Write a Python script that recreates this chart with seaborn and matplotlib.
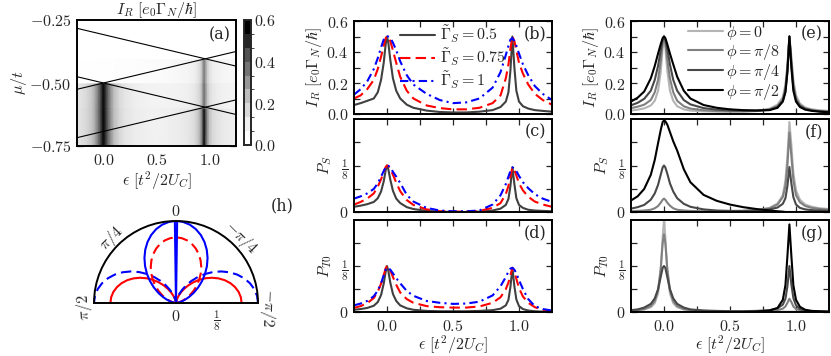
import numpy as np
import matplotlib
matplotlib.use("Agg")
import matplotlib.pyplot as plt
from matplotlib.colors import BoundaryNorm
from matplotlib.cm import ScalarMappable
import seaborn as sns

sns.set_style("ticks")
plt.rcParams["mathtext.fontset"] = "cm"
plt.rcParams["font.family"] = ["DejaVu Serif"]
plt.rcParams["font.size"] = 11

# -------------------------
# Data
# -------------------------
eps = [-0.25, -0.2, -0.15, -0.1, -0.07, -0.045, -0.025, -0.01, 0.0, 0.01, 0.025, 0.045,
       0.07, 0.1, 0.15, 0.2, 0.3, 0.4, 0.5, 0.6, 0.7, 0.8, 0.86, 0.9, 0.92, 0.935, 0.95,
       0.965, 0.98, 1.0, 1.03, 1.07, 1.12, 1.18, 1.25]

# (b) I_R for Gamma_S = 0.5, 0.75, 1
ir_g05 = [0.058, 0.07, 0.085, 0.1, 0.14, 0.22, 0.33, 0.45, 0.5, 0.46, 0.35, 0.23, 0.15, 0.1,
          0.06, 0.04, 0.022, 0.013, 0.01, 0.01, 0.015, 0.025, 0.045, 0.08, 0.14, 0.28, 0.5,
          0.3, 0.15, 0.08, 0.05, 0.035, 0.025, 0.02, 0.015]
ir_g075 = [0.1, 0.12, 0.16, 0.22, 0.29, 0.37, 0.44, 0.49, 0.5, 0.5, 0.47, 0.41, 0.33, 0.24,
           0.15, 0.1, 0.055, 0.038, 0.03, 0.03, 0.04, 0.07, 0.12, 0.23, 0.32, 0.42, 0.5, 0.47,
           0.41, 0.33, 0.26, 0.19, 0.13, 0.09, 0.06]
ir_g1 = [0.125, 0.16, 0.21, 0.29, 0.36, 0.43, 0.48, 0.5, 0.5, 0.5, 0.49, 0.46, 0.41, 0.34,
         0.25, 0.19, 0.13, 0.09, 0.07, 0.075, 0.1, 0.17, 0.27, 0.38, 0.44, 0.48, 0.49, 0.47,
         0.44, 0.39, 0.32, 0.25, 0.18, 0.13, 0.09]

# (c) P_S
ps_g05 = [0.014, 0.017, 0.021, 0.027, 0.037, 0.055, 0.082, 0.112, 0.125, 0.115, 0.087, 0.057,
          0.036, 0.024, 0.013, 0.008, 0.003, 0.001, 0.0, 0.0, 0.001, 0.004, 0.009, 0.019, 0.035,
          0.07, 0.12, 0.075, 0.037, 0.019, 0.011, 0.006, 0.004, 0.003, 0.002]
ps_g075 = [0.02, 0.027, 0.036, 0.05, 0.068, 0.088, 0.107, 0.121, 0.125, 0.124, 0.116, 0.1,
           0.079, 0.056, 0.032, 0.019, 0.007, 0.002, 0.001, 0.001, 0.003, 0.011, 0.024, 0.048,
           0.07, 0.096, 0.12, 0.113, 0.098, 0.077, 0.058, 0.041, 0.028, 0.02, 0.014]
ps_g1 = [0.036, 0.042, 0.05, 0.062, 0.077, 0.095, 0.11, 0.12, 0.125, 0.124, 0.12, 0.108,
         0.095, 0.078, 0.046, 0.028, 0.011, 0.004, 0.002, 0.002, 0.004, 0.02, 0.045, 0.075,
         0.095, 0.11, 0.12, 0.117, 0.11, 0.097, 0.08, 0.064, 0.048, 0.036, 0.027]

# (d) P_T0
pt_g05 = [0.006, 0.008, 0.011, 0.017, 0.027, 0.046, 0.077, 0.11, 0.125, 0.112, 0.08, 0.049,
          0.03, 0.018, 0.01, 0.006, 0.003, 0.002, 0.002, 0.002, 0.003, 0.005, 0.009, 0.018,
          0.033, 0.068, 0.12, 0.07, 0.034, 0.016, 0.008, 0.004, 0.002, 0.001, 0.0]
pt_g075 = [0.011, 0.016, 0.024, 0.038, 0.055, 0.077, 0.1, 0.119, 0.125, 0.123, 0.113, 0.095,
           0.074, 0.053, 0.035, 0.025, 0.016, 0.013, 0.012, 0.012, 0.015, 0.025, 0.04, 0.062,
           0.08, 0.1, 0.12, 0.11, 0.09, 0.065, 0.042, 0.025, 0.013, 0.006, 0.002]
pt_g1 = [0.018, 0.023, 0.03, 0.043, 0.058, 0.078, 0.1, 0.116, 0.12, 0.12, 0.115, 0.105, 0.092,
         0.078, 0.057, 0.044, 0.03, 0.025, 0.022, 0.023, 0.028, 0.045, 0.07, 0.095, 0.11,
         0.118, 0.12, 0.115, 0.105, 0.087, 0.062, 0.035, 0.016, 0.008, 0.004]

# (e) I_R for phi = 0, pi/8, pi/4, pi/2
ir_phi0 = [0.022, 0.028, 0.036, 0.055, 0.085, 0.15, 0.27, 0.43, 0.5, 0.43, 0.28, 0.15, 0.085,
           0.05, 0.03, 0.022, 0.017, 0.015, 0.015, 0.016, 0.02, 0.034, 0.06, 0.11, 0.19, 0.32,
           0.5, 0.37, 0.22, 0.12, 0.068, 0.042, 0.03, 0.024, 0.02]
ir_phi8 = [0.038, 0.047, 0.06, 0.09, 0.14, 0.22, 0.34, 0.46, 0.5, 0.46, 0.35, 0.23, 0.14,
           0.085, 0.05, 0.035, 0.024, 0.019, 0.017, 0.017, 0.019, 0.03, 0.052, 0.095, 0.17,
           0.3, 0.5, 0.34, 0.19, 0.1, 0.058, 0.036, 0.025, 0.019, 0.016]
ir_phi4 = [0.056, 0.072, 0.098, 0.15, 0.22, 0.31, 0.41, 0.48, 0.5, 0.48, 0.42, 0.32, 0.22,
           0.15, 0.09, 0.062, 0.038, 0.028, 0.023, 0.021, 0.021, 0.027, 0.045, 0.085, 0.15,
           0.28, 0.5, 0.32, 0.17, 0.09, 0.052, 0.033, 0.023, 0.017, 0.013]
ir_phi2 = [0.08, 0.105, 0.145, 0.23, 0.31, 0.39, 0.45, 0.49, 0.5, 0.49, 0.45, 0.39, 0.32,
           0.24, 0.15, 0.1, 0.058, 0.04, 0.03, 0.025, 0.023, 0.025, 0.04, 0.08, 0.14, 0.27,
           0.5, 0.3, 0.15, 0.08, 0.045, 0.028, 0.02, 0.015, 0.011]

# (f) P_S for phi
ps_phi0 = [0, 0, 0, 0, 0, 0, 0, 0, 0, 0, 0, 0, 0, 0, 0, 0, 0, 0.001, 0.001, 0.002, 0.004,
           0.011, 0.023, 0.045, 0.085, 0.15, 0.242, 0.18, 0.105, 0.058, 0.033, 0.02, 0.014,
           0.01, 0.008]
ps_phi8 = [0.002, 0.003, 0.004, 0.006, 0.01, 0.016, 0.025, 0.033, 0.036, 0.033, 0.025, 0.017,
           0.01, 0.006, 0.004, 0.003, 0.002, 0.002, 0.002, 0.003, 0.005, 0.01, 0.02, 0.04,
           0.07, 0.125, 0.214, 0.15, 0.085, 0.045, 0.026, 0.016, 0.011, 0.008, 0.006]
ps_phi4 = [0.009, 0.013, 0.019, 0.033, 0.05, 0.073, 0.1, 0.12, 0.125, 0.12, 0.103, 0.077,
           0.055, 0.037, 0.022, 0.014, 0.007, 0.004, 0.003, 0.003, 0.004, 0.007, 0.012, 0.022,
           0.037, 0.07, 0.121, 0.077, 0.04, 0.02, 0.011, 0.007, 0.005, 0.004, 0.003]
ps_phi2 = [0.031, 0.042, 0.062, 0.1, 0.14, 0.185, 0.22, 0.242, 0.246, 0.244, 0.235, 0.215,
           0.19, 0.165, 0.115, 0.08, 0.046, 0.03, 0.02, 0.013, 0.008, 0.004, 0.002, 0.001,
           0, 0, 0, 0, 0, 0, 0, 0, 0, 0, 0]

# (g) P_T0 for phi
pt_phi0 = [0.004, 0.005, 0.007, 0.013, 0.024, 0.05, 0.11, 0.205, 0.25, 0.205, 0.11, 0.05,
           0.024, 0.013, 0.007, 0.005, 0.003, 0.002, 0.001, 0.001, 0.001, 0.001, 0.001, 0.001,
           0.001, 0.001, 0.001, 0.001, 0.001, 0.001, 0.001, 0.0, 0.0, 0.0, 0.0]
pt_phi8 = [0.004, 0.005, 0.008, 0.016, 0.03, 0.06, 0.118, 0.187, 0.211, 0.187, 0.118, 0.06,
           0.03, 0.016, 0.008, 0.005, 0.003, 0.002, 0.002, 0.002, 0.002, 0.003, 0.005, 0.009,
           0.015, 0.025, 0.036, 0.027, 0.015, 0.008, 0.005, 0.003, 0.002, 0.001, 0.001]
pt_phi4 = [0.005, 0.007, 0.012, 0.022, 0.037, 0.062, 0.095, 0.12, 0.125, 0.12, 0.095, 0.062,
           0.037, 0.022, 0.012, 0.007, 0.004, 0.003, 0.002, 0.002, 0.003, 0.005, 0.01, 0.02,
           0.036, 0.07, 0.125, 0.075, 0.038, 0.018, 0.008, 0.004, 0.002, 0.001, 0.001]
pt_phi2 = [0, 0, 0, 0, 0, 0, 0, 0, 0, 0, 0, 0, 0, 0, 0, 0, 0, 0, 0, 0, 0.001, 0.004, 0.011,
           0.033, 0.073, 0.152, 0.238, 0.152, 0.073, 0.033, 0.014, 0.006, 0.003, 0.002, 0.001]

# (a) current map: column profiles of the two resonances and mu bands
map_left = [0.1, 0.12, 0.15, 0.21, 0.28, 0.37, 0.46, 0.54, 0.56, 0.54, 0.47, 0.38, 0.29,
            0.21, 0.14, 0.1, 0.065, 0.05, 0.04, 0.035, 0.03, 0.027, 0.025, 0.024, 0.023,
            0.022, 0.022, 0.022, 0.021, 0.021, 0.02, 0.02, 0.02, 0.02, 0.02]
map_right = [0.01, 0.01, 0.01, 0.01, 0.012, 0.012, 0.012, 0.012, 0.012, 0.012, 0.012, 0.013,
             0.013, 0.014, 0.015, 0.017, 0.02, 0.025, 0.03, 0.04, 0.055, 0.08, 0.12, 0.19,
             0.27, 0.4, 0.55, 0.42, 0.29, 0.19, 0.13, 0.1, 0.08, 0.065, 0.055]
map_mu = [-0.75, -0.6, -0.599, -0.5, -0.499, -0.405, -0.404, -0.25]
map_w_left = [1, 1, 1, 1, 0, 0, 0, 0]
map_w_right = [1, 1, 0.65, 0.65, 0.65, 0.65, 0, 0]

# (a) level lines, end points at eps = -0.25 and 1.25
line_eps = [-0.25, 1.25]
line_mu = [[-0.283, -0.433], [-0.525, -0.375], [-0.475, -0.625], [-0.717, -0.567]]

# (h) polar curves, theta in degrees
theta_deg = [-90, -85, -80, -75, -70, -65, -60, -55, -50, -45, -40, -35, -30, -25, -20, -15,
             -10, -5, -0.8, 0, 0.8, 5, 10, 15, 20, 25, 30, 35, 40, 45, 50, 55, 60, 65, 70, 75,
             80, 85, 90]
r_blue_solid = [0, 0.0019, 0.0076, 0.0168, 0.0293, 0.0447, 0.0625, 0.0823, 0.1033, 0.125,
                0.1467, 0.1678, 0.1875, 0.2054, 0.2208, 0.2333, 0.2425, 0.2481, 0.25, 0.0,
                0.25, 0.2481, 0.2425, 0.2333, 0.2208, 0.2054, 0.1875, 0.1678, 0.1467, 0.125,
                0.1033, 0.0823, 0.0625, 0.0447, 0.0293, 0.0168, 0.0076, 0.0019, 0]
r_red_dashed = [0, 0.0015, 0.006, 0.0134, 0.0234, 0.0357, 0.05, 0.0658, 0.0826, 0.1, 0.1174,
                0.1342, 0.15, 0.1643, 0.1766, 0.1866, 0.194, 0.1985, 0.2, 0.2, 0.2, 0.1985,
                0.194, 0.1866, 0.1766, 0.1643, 0.15, 0.1342, 0.1174, 0.1, 0.0826, 0.0658,
                0.05, 0.0357, 0.0234, 0.0134, 0.006, 0.0015, 0]
r_red_solid = [0.2, 0.1985, 0.194, 0.1866, 0.1766, 0.1643, 0.15, 0.1342, 0.1174, 0.1, 0.0826,
               0.0658, 0.05, 0.0357, 0.0234, 0.0134, 0.006, 0.0015, 0, 0, 0, 0.0015, 0.006,
               0.0134, 0.0234, 0.0357, 0.05, 0.0658, 0.0826, 0.1, 0.1174, 0.1342, 0.15,
               0.1643, 0.1766, 0.1866, 0.194, 0.1985, 0.2]
r_blue_dashed = [0.25, 0.2481, 0.2425, 0.2333, 0.2208, 0.2054, 0.1875, 0.1678, 0.1467, 0.125,
                 0.1033, 0.0823, 0.0625, 0.0447, 0.0293, 0.0168, 0.0076, 0.0019, 0, 0, 0,
                 0.0019, 0.0076, 0.0168, 0.0293, 0.0447, 0.0625, 0.0823, 0.1033, 0.125,
                 0.1467, 0.1678, 0.1875, 0.2054, 0.2208, 0.2333, 0.2425, 0.2481, 0.25]

gamma_labels = [r"$\tilde\Gamma_S=0.5$", r"$\tilde\Gamma_S=0.75$", r"$\tilde\Gamma_S=1$"]
phi_labels = [r"$\phi=0$", r"$\phi=\pi/8$", r"$\phi=\pi/4$", r"$\phi=\pi/2$"]
gamma_colors = ["#404040", "#ff0000", "#0000ff"]
gamma_styles = ["-", (0, (5, 2.5)), (0, (4, 2, 1, 2))]
phi_colors = ["#b4b4b4", "#808080", "#484848", "#000000"]

W, H = 831, 356
fig = plt.figure(figsize=(W / 100, H / 100), dpi=100)


def px_axes(x0, y0, x1, y1, **kw):
    return fig.add_axes([x0 / W, 1 - y1 / H, (x1 - x0) / W, (y1 - y0) / H], **kw)


def style_box(ax):
    for s in ax.spines.values():
        s.set_linewidth(1.4)
        s.set_color("black")
    ax.tick_params(which="both", direction="in", top=True, right=True, width=0.9,
                   labelsize=11.5, pad=4, length=4.5)


def style_line_panel(ax, ymax, bottom):
    ax.set_xlim(-0.25, 1.25)
    ax.set_ylim(0, ymax)
    ax.set_xticks([0, 0.5, 1.0])
    ax.set_xticks([0.25, 0.75], minor=True)
    if bottom:
        ax.set_xticklabels([r"$0.0$", r"$0.5$", r"$1.0$"])
        ax.set_xlabel(r"$\epsilon\ [t^2/2U_C]$", fontsize=11.5, labelpad=-1)
    else:
        ax.set_xticklabels([])
    if ymax > 0.3:
        ax.set_yticks([0, 0.2, 0.4, 0.6])
        ax.set_yticks([0.1, 0.3, 0.5], minor=True)
        ax.set_yticklabels([r"$0.0$", r"$0.2$", r"$0.4$", r"$0.6$"])
    else:
        ax.set_yticks([0, 0.125])
        ax.set_yticks([0.0625, 0.1875], minor=True)
        ax.set_yticklabels([r"$0$", r"$\frac{1}{8}$"])
    style_box(ax)


def tag(ax, s):
    ax.text(0.97, 0.95, s, transform=ax.transAxes, ha="right", va="top", fontsize=11.5)


# -------------------------
# (a) map
# -------------------------
ax_a = px_axes(77, 20, 236, 146)
X, Y = np.meshgrid(eps, map_mu)
Z = np.outer(map_w_left, map_left) + np.outer(map_w_right, map_right)
ax_a.pcolormesh(X, Y, Z, shading="gouraud", cmap="Greys", vmin=0, vmax=0.6)
for mu_pair in line_mu:
    sns.lineplot(x=line_eps, y=mu_pair, ax=ax_a, color="black", lw=0.8)
ax_a.set_xlim(-0.25, 1.25)
ax_a.set_ylim(-0.75, -0.25)
ax_a.set_xticks([0, 0.5, 1.0])
ax_a.set_xticks([0.25, 0.75], minor=True)
ax_a.set_xticklabels([r"$0.0$", r"$0.5$", r"$1.0$"])
ax_a.set_yticks([-0.75, -0.5, -0.25])
ax_a.set_yticks([-0.625, -0.375], minor=True)
ax_a.set_yticklabels([r"$-0.75$", r"$-0.50$", r"$-0.25$"])
style_box(ax_a)
ax_a.set_xlabel(r"$\epsilon\ [t^2/2U_C]$", fontsize=11.5, labelpad=1)
ax_a.set_ylabel(r"$\mu/t$", fontsize=11.5, labelpad=0)
ax_a.set_title(r"$I_R\ [e_0\Gamma_N/\hbar]$", fontsize=11.5, pad=3)
tag(ax_a, "(a)")

cax = px_axes(244, 20, 251, 145)
levels = np.linspace(0, 0.6, 10)
sm = ScalarMappable(norm=BoundaryNorm(levels, 256), cmap="Greys")
cb = fig.colorbar(sm, cax=cax, ticks=[0, 0.2, 0.4, 0.6])
cb.set_ticklabels([r"$0.0$", r"$0.2$", r"$0.4$", r"$0.6$"])
cb.outline.set_linewidth(1.4)
cax.tick_params(length=0, labelsize=11.5, pad=2)

# -------------------------
# (b)-(d) Gamma_S dependence
# -------------------------
ax_b = px_axes(354, 21, 552, 114)
ax_c = px_axes(354, 119, 552, 212)
ax_d = px_axes(354, 220, 552, 312)
for ys, ax in [((ir_g05, ir_g075, ir_g1), ax_b), ((ps_g05, ps_g075, ps_g1), ax_c),
               ((pt_g05, pt_g075, pt_g1), ax_d)]:
    for y, c, ls, lab in zip(ys, gamma_colors, gamma_styles, gamma_labels):
        sns.lineplot(x=eps, y=y, ax=ax, color=c, linestyle=ls, lw=1.5,
                     label=lab if ax is ax_b else None, legend=ax is ax_b)
style_line_panel(ax_b, 0.6, False)
style_line_panel(ax_c, 0.25, False)
style_line_panel(ax_d, 0.25, True)
ax_b.set_ylabel(r"$I_R\ [e_0\Gamma_N/\hbar]$", fontsize=11.5, labelpad=2)
ax_c.set_ylabel(r"$P_S$", fontsize=11.5)
ax_d.set_ylabel(r"$P_{T0}$", fontsize=11.5)
ax_b.legend(loc="upper center", bbox_to_anchor=(0.5, 1.04), frameon=False, fontsize=11.5,
            handlelength=2.2, handletextpad=0.3, labelspacing=0.1, borderaxespad=0)
tag(ax_b, "(b)")
tag(ax_c, "(c)")
tag(ax_d, "(d)")

# -------------------------
# (e)-(g) phi dependence
# -------------------------
ax_e = px_axes(631, 21, 829, 114)
ax_f = px_axes(631, 119, 829, 212)
ax_g = px_axes(631, 220, 829, 312)
for ys, ax in [((ir_phi0, ir_phi8, ir_phi4, ir_phi2), ax_e),
               ((ps_phi0, ps_phi8, ps_phi4, ps_phi2), ax_f),
               ((pt_phi0, pt_phi8, pt_phi4, pt_phi2), ax_g)]:
    for y, c, lab in zip(ys, phi_colors, phi_labels):
        sns.lineplot(x=eps, y=y, ax=ax, color=c, lw=1.5,
                     label=lab if ax is ax_e else None, legend=ax is ax_e)
style_line_panel(ax_e, 0.6, False)
style_line_panel(ax_f, 0.25, False)
style_line_panel(ax_g, 0.25, True)
ax_e.set_ylabel(r"$I_R\ [e_0\Gamma_N/\hbar]$", fontsize=11.5, labelpad=2)
ax_f.set_ylabel(r"$P_S$", fontsize=11.5)
ax_g.set_ylabel(r"$P_{T0}$", fontsize=11.5)
ax_e.legend(loc="upper center", bbox_to_anchor=(0.52, 1.04), frameon=False, fontsize=11.5,
            handlelength=2.2, handletextpad=0.2, labelspacing=0.0, borderaxespad=0)
tag(ax_e, "(e)")
tag(ax_f, "(f)")
tag(ax_g, "(g)")

# -------------------------
# (h) polar
# -------------------------
ax_h = px_axes(13, 180, 339, 344, projection="polar")
ax_h.set_thetamin(-90)
ax_h.set_thetamax(90)
ax_h.set_theta_zero_location("N")
ax_h.set_theta_direction(1)
th = np.deg2rad(theta_deg)
ax_h.plot(th, r_red_solid, color="#ff0000", lw=1.5)
ax_h.plot(th, r_blue_dashed, color="#0000ff", lw=1.5, ls=(0, (5, 2.5)))
ax_h.plot(th, r_red_dashed, color="#ff0000", lw=1.5, ls=(0, (5, 2.5)))
ax_h.plot(th, r_blue_solid, color="#0000ff", lw=1.5)
ax_h.set_rlim(0, 0.25)
ax_h.set_yticks([0, 0.0625, 0.125, 0.1875, 0.25])
ax_h.set_yticklabels([r"$0$", "", r"$\frac{1}{8}$", "", ""])
ax_h.set_xticks(np.deg2rad([-67.5, -45, -22.5, 0, 22.5, 45, 67.5]))
ax_h.set_xticklabels([])
ax_h.grid(False)
ax_h.tick_params(axis="x", direction="in", length=4, width=0.9)
ax_h.tick_params(axis="y", direction="in", length=4, width=0.9, labelsize=11.5)
for name, s in ax_h.spines.items():
    s.set_linewidth(1.4)
    s.set_color("black")
for ang, lab in [(0, r"$0$"), (45, r"$\pi/4$"), (-45, r"$-\pi/4$"), (93, r"$\pi/2$"),
                 (-93, r"$-\pi/2$")]:
    ax_h.text(np.deg2rad(ang), 0.28, lab, rotation=ang, ha="center", va="center",
              fontsize=11.5, rotation_mode="anchor")
fig.text(282 / W, 1 - 206 / H, "(h)", fontsize=11.5, ha="center", va="center")

fig.savefig("out.png", dpi=100)
